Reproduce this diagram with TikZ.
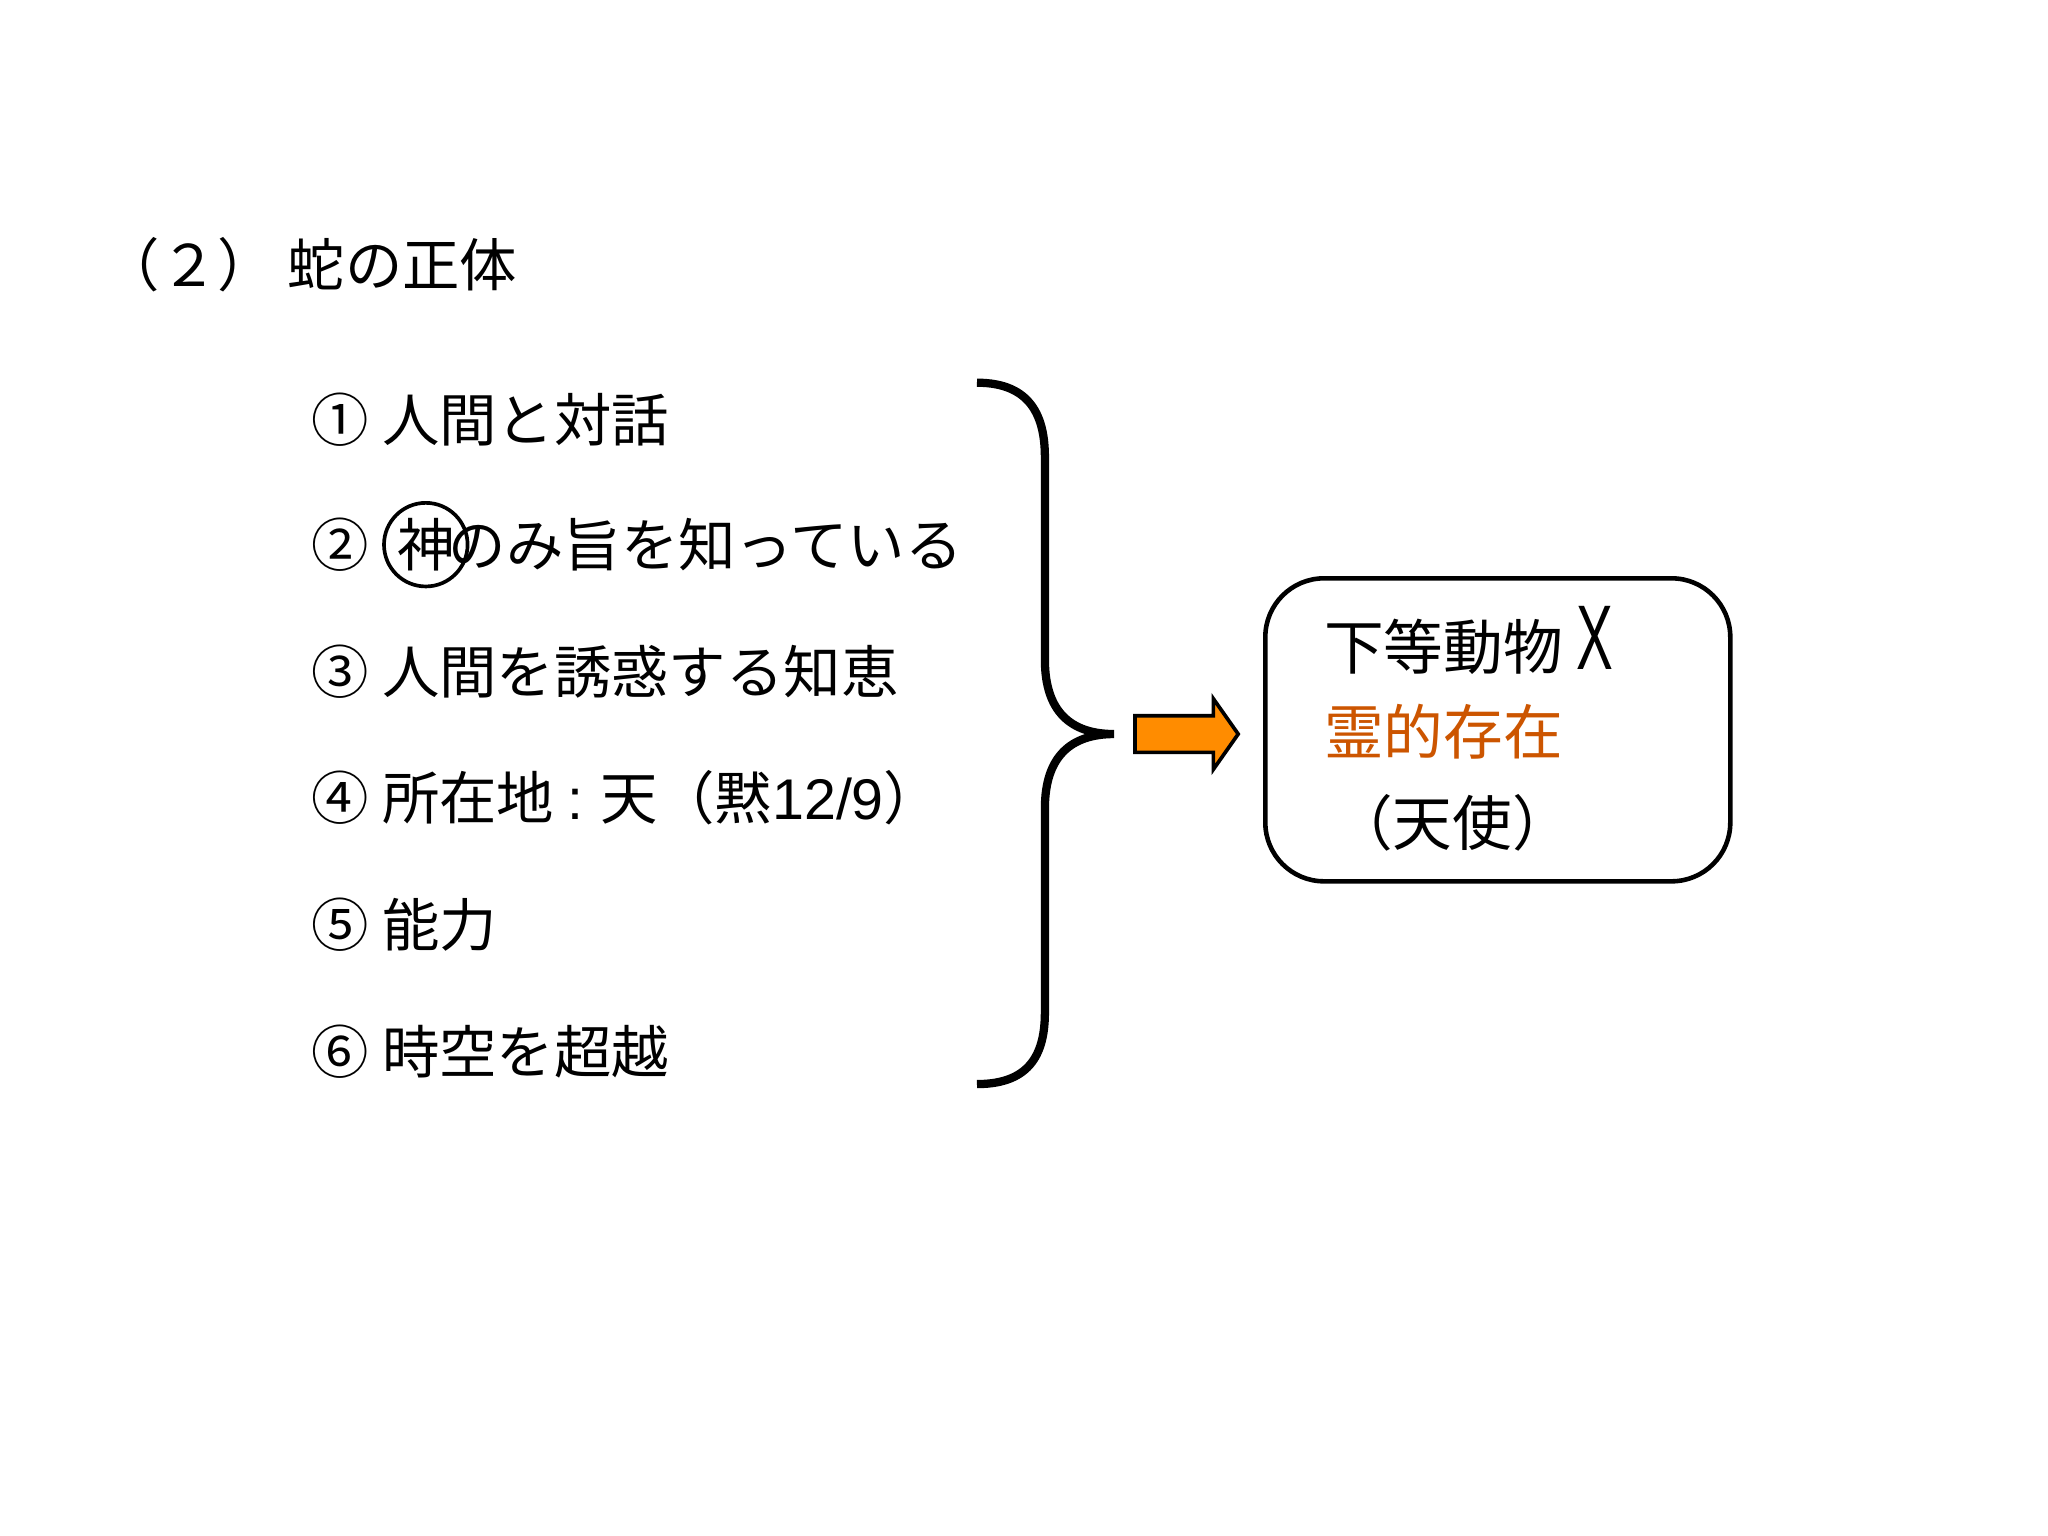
\documentclass[tikz,border=0pt]{standalone}
\usepackage{fontspec}
\usepackage{graphicx}
\setmainfont{Noto Sans CJK JP}
\newfontfamily\latin{Liberation Sans}
\begin{document}
\begin{tikzpicture}[x=0.1mm,y=-0.1mm,
  item/.style={anchor=west,inner sep=0pt,font=\fontsize{12.5pt}{14pt}\selectfont},
  boxt/.style={anchor=west,inner sep=0pt,font=\fontsize{13pt}{15pt}\selectfont}]
\useasboundingbox (0,0) rectangle (1568,1176);
\node[item] (t) at (78,203) {（２）\ 蛇の正体};
\node[item] (i1) at (238,321) {① 人間と対話};
\node[item] (i2) at (238,417) {② \phantom{神}\,のみ旨を知っている};
\node[draw,circle,line width=0.8pt,minimum size=6.4mm,inner sep=0pt] (g) at (326,417) {};
\node[item,anchor=center] (gt) at (326,417) {神};
\node[item] (i3) at (238,514) {③ 人間を誘惑する知恵};
\node[item] (i4) at (238,611) {④ 所在地 {\latin :} 天（黙{\latin 12/9}）};
\node[item] (i5) at (238,708) {⑤ 能力};
\node[item] (i6) at (238,805) {⑥ 時空を超越};
\coordinate (b1) at (748,293);
\coordinate (b2) at (748,830);
\coordinate (bt) at (853,562);
\draw[line width=1.8pt] (b1) .. controls (790,293) and (800,320) .. (800,350) -- (800,505)
  .. controls (800,545) and (820,562) .. (bt)
  .. controls (820,562) and (800,579) .. (800,619) -- (800,775)
  .. controls (800,805) and (790,830) .. (b2);
\draw[fill=orange!90!yellow,line width=0.8pt] (869,548) -- (929,548) -- (929,535) -- (948,562) -- (929,589) -- (929,576) -- (869,576) -- cycle;
\node[draw,rounded corners=4.5mm,line width=1pt,minimum width=35.6mm,minimum height=23.2mm,anchor=north west] (box) at (967,441) {};
\node[boxt] (r1) at (1013,490) {下等動物 \scalebox{0.6}[1]{\latin\fontsize{20pt}{22pt}\selectfont X}};
\node[boxt,text={rgb,255:red,204;green,85;blue,0}] (r2) at (1013,560) {霊的存在};
\node[boxt] (r3) at (1020,630) {（天使）};
\end{tikzpicture}
\end{document}
